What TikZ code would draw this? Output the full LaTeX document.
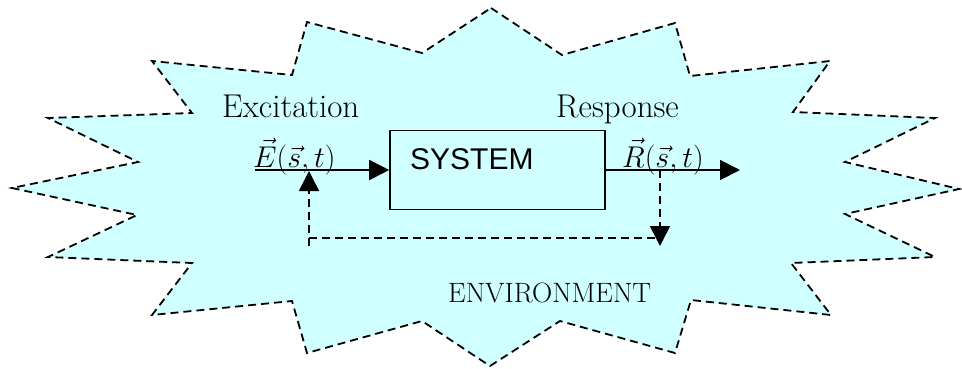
\RequirePackage{fix-cm}
\documentclass[tikz,border=0pt]{standalone}
\usepackage{fontspec}
\newfontfamily\sysfont{Liberation Sans}
\usetikzlibrary{arrows.meta}
\definecolor{envfill}{RGB}{207,255,255}
\tikzset{
  burst/.style={draw=black, fill=envfill, line width=1.8pt, dash pattern=on 8pt off 5pt, line join=miter},
  sysbox/.style={draw=black, line width=1.6pt, minimum width=215pt, minimum height=79pt, inner sep=0pt},
  flow/.style={line width=1.8pt, -{Triangle[length=20pt,width=20pt]}},
  feedback/.style={line width=1.6pt, dash pattern=on 8pt off 5pt},
  fbarrow/.style={feedback, -{Triangle[length=20pt,width=20pt]}},
  lbl/.style={font=\fontsize{33}{40}\selectfont, inner sep=0pt, anchor=base west},
  mathlbl/.style={lbl, font=\fontsize{30}{36}\selectfont},
}
\begin{document}
\begin{tikzpicture}[x=1pt,y=-1pt]
\useasboundingbox (0,0) rectangle (962,368);
\draw[burst] (491,8) -- (562,55) -- (675,23) -- (690,76) -- (830,61) -- (793,112)
  -- (935,118) -- (845,162) -- (959,189) -- (845,214) -- (935,257) -- (791,263)
  -- (831,315) -- (691,300) -- (675,353) -- (560,321) -- (490,366) -- (422,321)
  -- (307,353) -- (292,301) -- (152,315) -- (192,263) -- (48,257) -- (137,215)
  -- (12,188) -- (138,162) -- (48,118) -- (192,113) -- (152,61) -- (292,75)
  -- (307,22) -- (422,53) -- cycle;
\node[sysbox] (sys) at (497.5,170) {};
\node[lbl, font=\sysfont\fontsize{30}{36}\selectfont] (systxt) at (410,169) {SYSTEM};
\coordinate (inStart) at (255,170);
\coordinate (outEnd) at (740,170);
\coordinate (tap) at (660,170);
\coordinate (tapEnd) at (660,246);
\coordinate (fbCornerR) at (657,238);
\coordinate (fbCornerL) at (309,238);
\coordinate (fbStart) at (309,246);
\coordinate (fbTip) at (309,171);
\draw[flow] (inStart) -- (sys.west);
\draw[flow] (sys.east) -- (outEnd);
\draw[fbarrow] (tap) -- (tapEnd);
\draw[feedback] (fbCornerL) -- (fbCornerR);
\draw[fbarrow] (fbStart) -- (fbTip);
\node[lbl] (exc) at (222,117) {Excitation};
\node[lbl] (resp) at (556,117) {Response};
\node[mathlbl] (Elbl) at (253,167) {$\vec{E}(\vec{s},t)$};
\node[mathlbl] (Rlbl) at (622,167) {$\vec{R}(\vec{s},t)$};
\node[lbl, font=\fontsize{28}{34}\selectfont] (env) at (448,302) {ENVIRONMENT};
\end{tikzpicture}
\end{document}
